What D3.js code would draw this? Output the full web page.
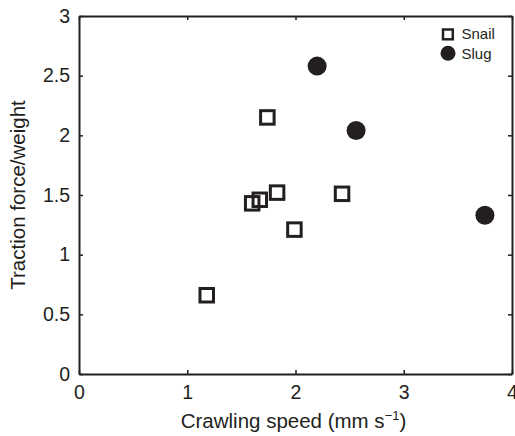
<!DOCTYPE html>
<html>
<head>
<meta charset="utf-8">
<script src="https://cdn.jsdelivr.net/npm/d3@7"></script>
<style>
  html, body { margin: 0; padding: 0; background: #fff; }
  svg { display: block; font-family: "Liberation Sans", Arial, Helvetica, sans-serif; }
</style>
</head>
<body>
<svg id="chart" width="515" height="436"></svg>
<script>
// Crawling speed (mm/s) vs traction force / body weight
const snailSpeed = [1.74, 1.60, 1.67, 1.83, 1.99, 2.43, 1.18];
const snailForce = [2.15, 1.43, 1.46, 1.52, 1.21, 1.51, 0.66];
const slugSpeed  = [2.20, 2.56, 3.75];
const slugForce  = [2.58, 2.04, 1.33];
const xTicks = [0, 1, 2, 3, 4];
const yTicks = [0, 0.5, 1, 1.5, 2, 2.5, 3];
const seriesNames = ["Snail", "Slug"];

const ink = "#231f20";
const svg = d3.select("#chart");
const m = { left: 79, right: 3, top: 16, bottom: 62 };
const W = 515, H = 436;

const x = d3.scaleLinear().domain([0, 4]).range([m.left, W - m.right]);
const y = d3.scaleLinear().domain([0, 3]).range([H - m.bottom, m.top]);

const fmt = d => String(d);

// axes with inward ticks, mirrored on top and right
const gB = svg.append("g").attr("transform", `translate(0,${y(0)})`)
  .call(d3.axisBottom(x).tickValues(xTicks).tickFormat(fmt).tickSizeInner(-4).tickSizeOuter(0).tickPadding(11));
const gT = svg.append("g").attr("transform", `translate(0,${y(3)})`)
  .call(d3.axisTop(x).tickValues(xTicks).tickFormat("").tickSizeInner(-4).tickSizeOuter(0));
const gL = svg.append("g").attr("transform", `translate(${x(0)},0)`)
  .call(d3.axisLeft(y).tickValues(yTicks).tickFormat(fmt).tickSizeInner(-4).tickSizeOuter(0).tickPadding(9));
const gR = svg.append("g").attr("transform", `translate(${x(4)},0)`)
  .call(d3.axisRight(y).tickValues(yTicks).tickFormat("").tickSizeInner(-4).tickSizeOuter(0));

[gB, gT, gL, gR].forEach(g => {
  g.select(".domain").attr("stroke", ink).attr("stroke-width", 2);
  g.selectAll(".tick line").attr("stroke", ink).attr("stroke-width", 1.5);
  g.selectAll(".tick text").attr("fill", ink).attr("font-size", 19.5)
    .attr("font-family", "Liberation Sans, Arial, sans-serif");
});
gB.selectAll(".tick text").attr("dy", "0.71em");

// axis titles
const xl = svg.append("text")
  .attr("x", (x(0) + x(4)) / 2 - 2).attr("y", 428)
  .attr("text-anchor", "middle").attr("font-size", 20.5).attr("fill", ink)
  .text("Crawling speed (mm s");
xl.append("tspan").text("\u22121").attr("font-size", 13).attr("dy", -8);
xl.append("tspan").text(")").attr("dy", 8);

svg.append("text")
  .attr("transform", `translate(25,${(y(0) + y(3)) / 2}) rotate(-90)`)
  .attr("text-anchor", "middle").attr("font-size", 20.5).attr("fill", ink)
  .text("Traction force/weight");

// snail: open squares
const side = 13.5;
svg.append("g").selectAll("rect")
  .data(d3.range(snailSpeed.length))
  .join("rect")
  .attr("x", i => x(snailSpeed[i]) - side / 2)
  .attr("y", i => y(snailForce[i]) - side / 2)
  .attr("width", side).attr("height", side)
  .attr("fill", "none").attr("stroke", ink).attr("stroke-width", 3);

// slug: filled circles
svg.append("g").selectAll("circle")
  .data(d3.range(slugSpeed.length))
  .join("circle")
  .attr("cx", i => x(slugSpeed[i]))
  .attr("cy", i => y(slugForce[i]))
  .attr("r", 9.5).attr("fill", ink);

// legend
const lg = svg.append("g");
lg.append("rect").attr("x", 443).attr("y", 29.5).attr("width", 9.8).attr("height", 9.8)
  .attr("fill", "none").attr("stroke", ink).attr("stroke-width", 2.5);
lg.append("circle").attr("cx", 448).attr("cy", 53.3).attr("r", 7.5).attr("fill", ink);
lg.selectAll("text").data(seriesNames).join("text")
  .attr("x", 461.5).attr("y", (d, i) => 39 + i * 19.5)
  .attr("font-size", 15).attr("fill", ink).text(d => d);
</script>
</body>
</html>
